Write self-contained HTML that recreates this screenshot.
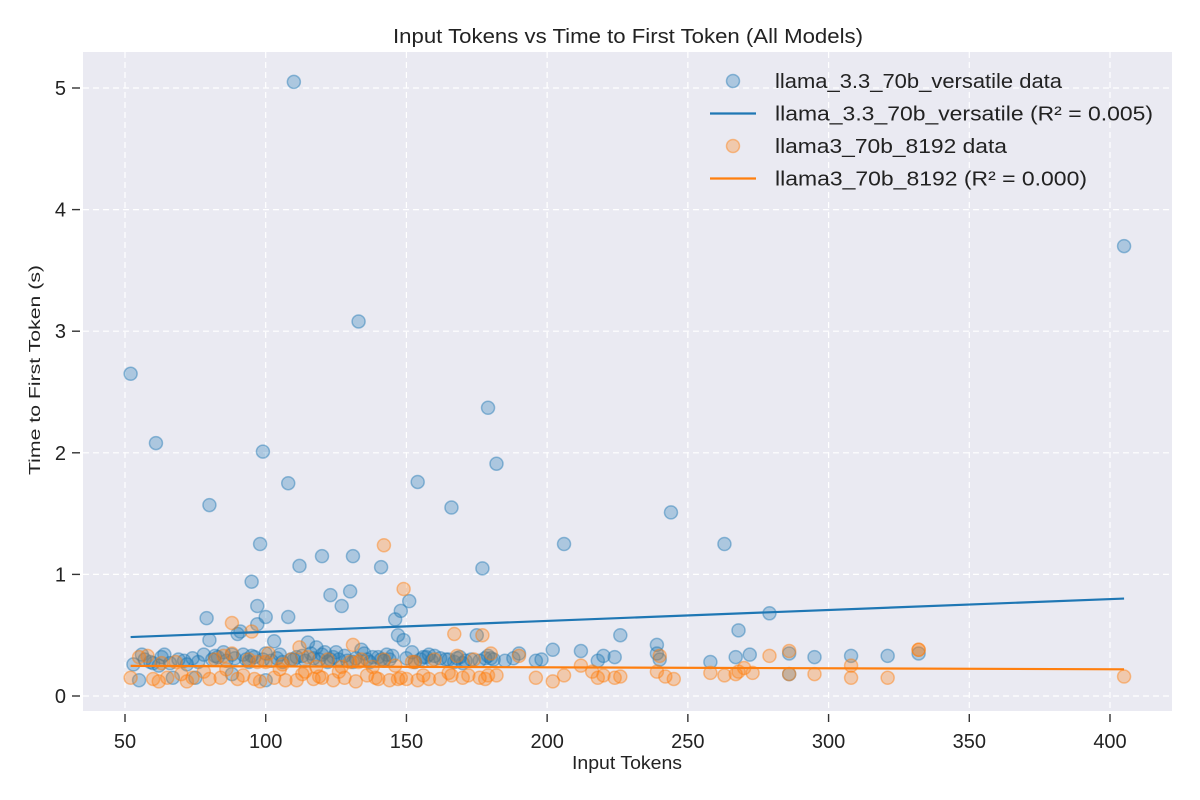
<!DOCTYPE html>
<html><head><meta charset="utf-8"><style>
body{margin:0;background:#fff;}
svg{display:block;font-family:"Liberation Sans",sans-serif;}
</style></head><body>
<svg id="chart" width="1200" height="800"></svg>
<script>
const blueX=[52,61,80,99,98,108,110,112,120,123,127,130,131,133,141,154,166,177,179,182,206,244,263,268,279,405,95,97,100,108,79,80,90,91,97,103,115,146,148,149,151,147,175,226,239,332,321,308,295,286,272,267,258,240,224,220,212,202,196,190,180,170,160,156,152,143,138,135,128,125,120,118,113,105,100,95,88,85,82,78,72,67,64,62,56,55,53,100,92,110,123,131,141,165,176,218,286,239,179,88,75,60,116,134,158,168,145,121,
 57,59,63,66,69,71,74,76,81,83,86,89,93,94,96,99,102,104,106,109,111,114,117,119,122,124,126,129,132,136,137,140,142,144,150,153,155,157,159,162,164,167,169,171,173,178,181,185,188,198];
const blueY=[2.65,2.08,1.57,2.01,1.25,1.75,5.05,1.07,1.15,0.83,0.74,0.86,1.15,3.08,1.06,1.76,1.55,1.05,2.37,1.91,1.25,1.51,1.25,0.54,0.68,3.70,0.94,0.74,0.65,0.65,0.64,0.46,0.51,0.53,0.59,0.45,0.44,0.63,0.70,0.46,0.78,0.50,0.50,0.50,0.42,0.35,0.33,0.33,0.32,0.35,0.34,0.32,0.28,0.30,0.32,0.33,0.37,0.38,0.29,0.35,0.31,0.27,0.33,0.32,0.36,0.34,0.32,0.35,0.33,0.36,0.34,0.40,0.33,0.34,0.35,0.33,0.34,0.36,0.33,0.34,0.26,0.15,0.34,0.25,0.34,0.13,0.26,0.13,0.34,0.30,0.30,0.28,0.30,0.30,0.29,0.29,0.18,0.35,0.33,0.18,0.15,0.27,0.35,0.38,0.34,0.31,0.33,0.36,
 0.30,0.28,0.32,0.27,0.30,0.29,0.31,0.28,0.30,0.32,0.29,0.31,0.30,0.28,0.32,0.30,0.29,0.31,0.28,0.30,0.32,0.29,0.31,0.30,0.28,0.32,0.30,0.29,0.31,0.30,0.28,0.32,0.29,0.30,0.31,0.28,0.30,0.32,0.29,0.31,0.30,0.28,0.32,0.29,0.30,0.31,0.30,0.29,0.31,0.30];
const orangeX=[142,149,88,95,167,177,131,112,332,286,52,55,58,62,63,65,68,72,74,78,80,82,84,86,88,90,92,94,96,98,100,101,103,105,107,109,111,113,115,117,118,120,122,124,126,128,130,132,134,136,138,140,142,144,146,148,150,152,154,156,158,160,162,166,168,170,172,174,176,178,180,182,190,196,202,206,212,216,220,224,226,240,242,245,258,263,267,270,273,279,286,295,308,321,332,405,60,70,85,97,106,114,119,127,133,139,147,153,165,179,218,239,268,308];
const orangeY=[1.24,0.88,0.60,0.53,0.51,0.50,0.42,0.40,0.38,0.37,0.15,0.32,0.33,0.12,0.27,0.15,0.28,0.12,0.15,0.20,0.14,0.30,0.15,0.22,0.35,0.14,0.17,0.30,0.14,0.12,0.28,0.35,0.15,0.22,0.13,0.30,0.13,0.18,0.32,0.14,0.24,0.15,0.30,0.13,0.20,0.15,0.28,0.12,0.30,0.17,0.24,0.14,0.30,0.13,0.25,0.15,0.14,0.28,0.13,0.17,0.14,0.30,0.14,0.17,0.33,0.15,0.17,0.30,0.15,0.14,0.35,0.17,0.33,0.15,0.12,0.17,0.25,0.20,0.17,0.15,0.16,0.33,0.16,0.14,0.19,0.17,0.18,0.23,0.19,0.33,0.18,0.18,0.15,0.15,0.38,0.16,0.14,0.18,0.33,0.28,0.26,0.20,0.16,0.24,0.28,0.15,0.14,0.28,0.19,0.17,0.15,0.20,0.20,0.25];
const xTicks=[50,100,150,200,250,300,350,400];
const yTicks=[0,1,2,3,4,5];

const L=83,R=1172,T=52,B=711;
const xs=v=>125+(v-50)*(1110-125)/350;
const ys=v=>696-v*121.6;
const svg=document.getElementById('chart');
const NS='http://www.w3.org/2000/svg';
function mk(tag,attrs,parent){const e=document.createElementNS(NS,tag);for(const k in attrs)e.setAttribute(k,attrs[k]);(parent||svg).appendChild(e);return e;}

const bg=mk('rect',{x:L,y:T,width:R-L,height:B-T,fill:'#eaeaf2'});


xTicks.forEach(t=>{const x=xs(t);
 const g=mk('line',{x1:x,x2:x,y1:T,y2:B,stroke:'#fff','stroke-dasharray':'6,4','stroke-width':1.2});
 
 
 mk('line',{x1:x,x2:x,y1:B+3,y2:B+11,stroke:'#333','stroke-width':1.4});
 const tx=mk('text',{x:x,y:B+37,'text-anchor':'middle','font-size':20,fill:'#222'});tx.textContent=t;
 
 
});
yTicks.forEach(t=>{const y=ys(t);
 const g=mk('line',{x1:L,x2:R,y1:y,y2:y,stroke:'#fff','stroke-dasharray':'6,4','stroke-width':1.2});
 
 
 mk('line',{x1:L-11,x2:L-3,y1:y,y2:y,stroke:'#333','stroke-width':1.4});
 const tx=mk('text',{x:L-17,y:y+7,'text-anchor':'end','font-size':20,fill:'#222'});tx.textContent=t;
 
 
});
function pts(X,Y,c,name){X.forEach((x,i)=>{const p=mk('circle',{cx:xs(x),cy:ys(Y[i]),r:6.5,fill:c,'fill-opacity':0.3,stroke:c,'stroke-opacity':0.45,'stroke-width':1.5});
 
 });}
function fit(X,Y,c,name){const n=X.length;let mx=0,my=0;X.forEach((x,i)=>{mx+=x;my+=Y[i];});mx/=n;my/=n;let sxy=0,sxx=0;X.forEach((x,i)=>{sxy+=(x-mx)*(Y[i]-my);sxx+=(x-mx)**2;});const b=sxy/sxx,a=my-b*mx;const x0=Math.min(...X),x1=Math.max(...X);
 const l=mk('line',{x1:xs(x0),y1:ys(a+b*x0),x2:xs(x1),y2:ys(a+b*x1),stroke:c,'stroke-width':2.2});
 
 }
pts(blueX,blueY,'#1f77b4','blue-point');
pts(orangeX,orangeY,'#ff7f0e','orange-point');
fit(blueX,blueY,'#1f77b4','blue-fit-line');
fit(orangeX,orangeY,'#ff7f0e','orange-fit-line');

const tt=mk('text',{x:628,y:43,'text-anchor':'middle','font-size':20,fill:'#222',textLength:470,lengthAdjust:'spacingAndGlyphs'});tt.textContent='Input Tokens vs Time to First Token (All Models)';


const xl=mk('text',{x:627,y:769,'text-anchor':'middle','font-size':18,fill:'#222',textLength:110,lengthAdjust:'spacingAndGlyphs'});xl.textContent='Input Tokens';


const yl=mk('text',{x:0,y:0,'text-anchor':'middle','font-size':16,fill:'#222',transform:'translate(40,370) rotate(-90)',textLength:210,lengthAdjust:'spacingAndGlyphs'});yl.textContent='Time to First Token (s)';



const leg=[['s','#1f77b4','llama_3.3_70b_versatile data',287],['l','#1f77b4','llama_3.3_70b_versatile (R² = 0.005)',378],['s','#ff7f0e','llama3_70b_8192 data',232],['l','#ff7f0e','llama3_70b_8192 (R² = 0.000)',312]];
leg.forEach((e,i)=>{const y=81+i*32.5;
 if(e[0]=='s')mk('circle',{cx:733,cy:y,r:6.5,fill:e[1],'fill-opacity':0.3,stroke:e[1],'stroke-opacity':0.45,'stroke-width':1.5});
 else mk('line',{x1:710,x2:756,y1:y,y2:y,stroke:e[1],'stroke-width':2.2});
 const t=mk('text',{x:775,y:y+7,'font-size':20,fill:'#222',textLength:e[3],lengthAdjust:'spacingAndGlyphs'});t.textContent=e[2];
 
 
});
</script>
</body></html>
